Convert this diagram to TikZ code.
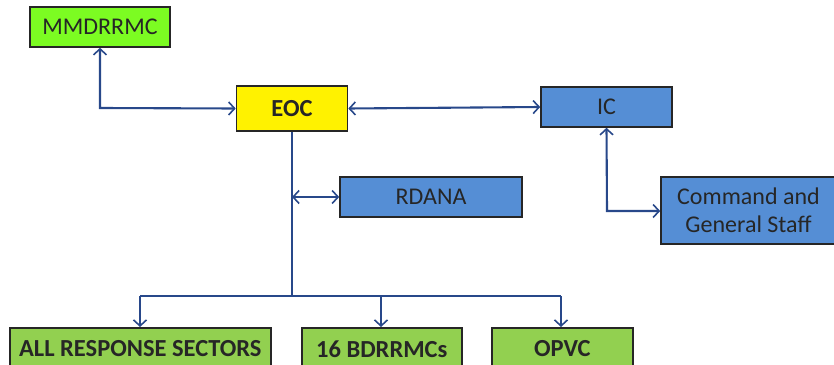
\documentclass[tikz,border=0pt]{standalone}
\usepackage{fontspec}
\setmainfont{Carlito}
\usetikzlibrary{arrows.meta}
\definecolor{lgreen}{HTML}{7CFC22}
\definecolor{ogreen}{HTML}{92D050}
\definecolor{oblue}{HTML}{558ED5}
\definecolor{lineblue}{HTML}{28488A}
\tikzset{
  box/.style={draw=black!85, line width=1.6pt, inner sep=0pt, align=center,
    font=\fontsize{24}{28}\selectfont, text=black!85},
  bbox/.style={box, font=\fontsize{24.5}{28}\selectfont\bfseries},
  barb/.tip={Straight Barb[length=6pt,width=13pt,line width=1.6pt]},
  conn/.style={draw=lineblue, line width=2.1pt, barb-barb},
  oneway/.style={draw=lineblue, line width=2.1pt, -barb},
  plain/.style={draw=lineblue, line width=2.1pt}
}
\begin{document}
\begin{tikzpicture}[x=1pt,y=-1pt]
\useasboundingbox (0,0) rectangle (834,364);
\node[box, fill=lgreen, minimum width=140pt, minimum height=40pt] (mm) at (100,27) {MMDRRMC};
\node[bbox, fill=yellow, minimum width=111pt, minimum height=45pt] (eoc) at (292,108.5) {EOC};
\node[box, fill=oblue, minimum width=131pt, minimum height=40pt] (ic) at (606.5,107) {IC};
\node[box, fill=oblue, minimum width=182pt, minimum height=40pt] (rd) at (431,197) {RDANA};
\node[box, fill=oblue, minimum width=175pt, minimum height=67pt] (cg) at (748.5,210.5) {Command and\\General Staff};
\node[bbox, fill=ogreen, minimum width=261pt, minimum height=42pt, anchor=north west] (all) at (9,327) {ALL RESPONSE SECTORS};
\node[bbox, fill=ogreen, minimum width=160pt, minimum height=42pt, anchor=north west] (bd) at (301,327) {16 BDRRMCs};
\node[bbox, fill=ogreen, minimum width=141pt, minimum height=42pt, anchor=north west] (op) at (491,327) {OPVC};

\coordinate (j1) at (100,108);
\draw[conn] (mm.south) -- (j1) -- (eoc.west);
\draw[conn] (eoc.east) -- (ic.west);
\coordinate (j2) at (607,211);
\draw[conn] (ic.south) -- (j2) -- (cg.west |- j2);
\coordinate (rdj) at (292,197);
\draw[conn] (rdj) -- (rd.west);
\coordinate (hb) at (292,296);
\draw[plain] (eoc.south) -- (hb);
\coordinate (hl) at (140,296);
\coordinate (hr) at (561,296);
\draw[plain] (hl) -- (hr);
\draw[oneway] (hl) -- (all.north -| hl);
\draw[oneway] (381,296) -- (381,327);
\draw[oneway] (hr) -- (op.north -| hr);
\end{tikzpicture}
\end{document}
